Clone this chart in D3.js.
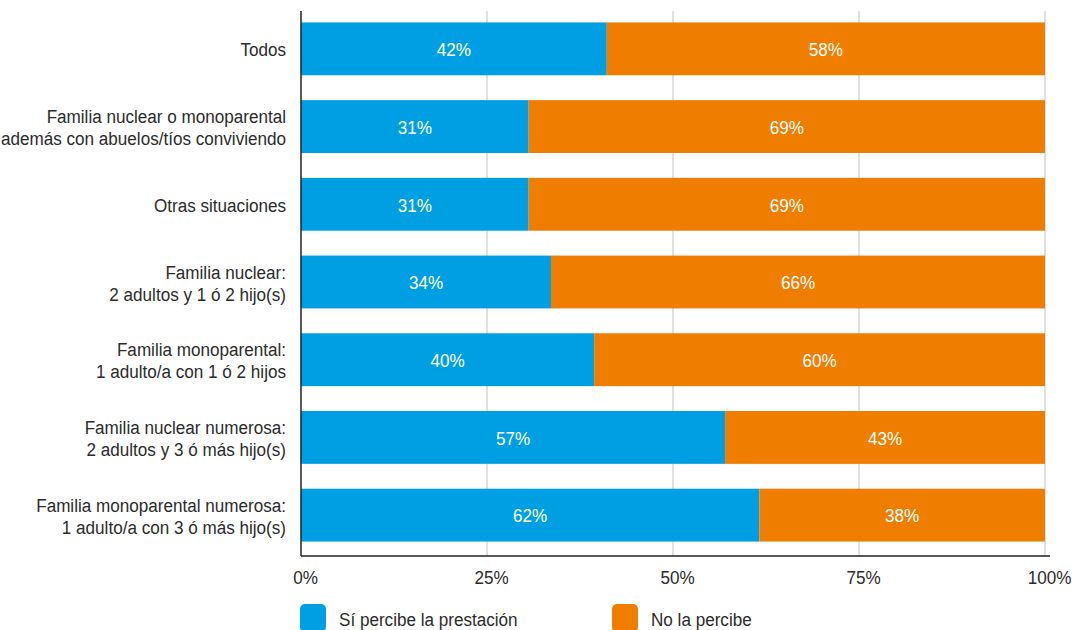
<!DOCTYPE html>
<html>
<head>
<meta charset="utf-8">
<script src="https://cdn.jsdelivr.net/npm/d3@7"></script>
<style>
  html, body { margin: 0; padding: 0; background: #fff; }
  svg { display: block; font-family: "Liberation Sans", Arial, sans-serif; }
</style>
</head>
<body>
<svg id="chart" width="1072" height="630"></svg>
<script>
const categories = [
  ["Todos"],
  ["Familia nuclear o monoparental", "además con abuelos/tíos conviviendo"],
  ["Otras situaciones"],
  ["Familia nuclear:", "2 adultos y 1 ó 2 hijo(s)"],
  ["Familia monoparental:", "1 adulto/a con 1 ó 2 hijos"],
  ["Familia nuclear numerosa:", "2 adultos y 3 ó más hijo(s)"],
  ["Familia monoparental numerosa:", "1 adulto/a con 3 ó más hijo(s)"]
];
const siValues = [41.1, 30.6, 30.6, 33.6, 39.4, 57.0, 61.6];
const noValues = [58.9, 69.4, 69.4, 66.4, 60.6, 43.0, 38.4];
const siLabels = ["42%", "31%", "31%", "34%", "40%", "57%", "62%"];
const noLabels = ["58%", "69%", "69%", "66%", "60%", "43%", "38%"];
const seriesNames = ["Sí percibe la prestación", "No la percibe"];
const tickValues = [0, 25, 50, 75, 100];
const tickLabels = ["0%", "25%", "50%", "75%", "100%"];

const colors = ["#009fe3", "#ef7d00"];
const textColor = "#2b2b2b";
const FS = 19;      // font size
const SX = 0.9;     // horizontal condensing

const svg = d3.select("#chart");
const plotLeft = 301, plotRight = 1045, plotTop = 11, plotBottom = 556;

const x = d3.scaleLinear().domain([0, 100]).range([plotLeft, plotRight]);
const y = d3.scaleBand().domain(d3.range(categories.length)).range([plotTop - 1, plotBottom - 2]).paddingInner(0.32).paddingOuter(0.16);

// gridlines
svg.append("g").selectAll("line").data(tickValues.slice(1)).join("line")
  .attr("x1", d => x(d)).attr("x2", d => x(d))
  .attr("y1", plotTop).attr("y2", plotBottom)
  .attr("stroke", "#cccccc").attr("stroke-width", 1.2);

// stacked data
const rows = categories.map((c, i) => ({ i, si: siValues[i], no: noValues[i] }));
const stacked = d3.stack().keys(["si", "no"])(rows);

const groups = svg.append("g").selectAll("g").data(stacked).join("g")
  .attr("fill", (d, k) => colors[k]);
groups.selectAll("rect").data(d => d).join("rect")
  .attr("x", d => x(d[0]))
  .attr("width", d => x(d[1]) - x(d[0]))
  .attr("y", d => y(d.data.i))
  .attr("height", y.bandwidth());

// value labels
const labelSets = [siLabels, noLabels];
stacked.forEach((layer, k) => {
  svg.append("g").selectAll("text").data(layer).join("text")
    .attr("transform", d => `translate(${(x(d[0]) + x(d[1])) / 2},${y(d.data.i) + y.bandwidth() / 2}) scale(${SX},1)`)
    .attr("dy", "0.38em")
    .attr("text-anchor", "middle")
    .attr("fill", "#ffffff")
    .attr("font-size", FS)
    .text(d => labelSets[k][d.data.i]);
});

// category labels
const catG = svg.append("g").attr("transform", `translate(286,0) scale(${SX},1)`);
categories.forEach((lines, i) => {
  const cy = y(i) + y.bandwidth() / 2;
  const lh = 22;
  const t = catG.append("text")
    .attr("text-anchor", "end")
    .attr("fill", textColor)
    .attr("font-size", FS);
  lines.forEach((ln, j) => {
    t.append("tspan")
      .attr("x", 0)
      .attr("y", cy + (j - (lines.length - 1) / 2) * lh)
      .attr("dy", "0.4em")
      .text(ln);
  });
});

// axes lines
svg.append("line").attr("x1", plotLeft).attr("x2", plotLeft).attr("y1", plotTop).attr("y2", plotBottom)
  .attr("stroke", "#222").attr("stroke-width", 1.5);
svg.append("line").attr("x1", plotLeft).attr("x2", plotRight + 5).attr("y1", plotBottom).attr("y2", plotBottom)
  .attr("stroke", "#222").attr("stroke-width", 1.5);

// tick labels
const xAxis = d3.axisBottom(x).tickValues(tickValues).tickFormat((d, i) => tickLabels[i]).tickSize(0).tickPadding(0);
const ax = svg.append("g").attr("transform", `translate(4,${plotBottom})`).call(xAxis);
ax.select(".domain").remove();
ax.selectAll("text")
  .attr("y", 0).attr("dy", 0)
  .attr("transform", `translate(0,28) scale(${SX},1)`)
  .attr("fill", textColor).attr("font-size", FS)
  .attr("font-family", "Liberation Sans, Arial, sans-serif");

// legend
const legendX = [300, 612];
const lg = svg.append("g").selectAll("g").data(seriesNames).join("g")
  .attr("transform", (d, i) => `translate(${legendX[i]},604)`);
lg.append("rect").attr("width", 26).attr("height", 28).attr("rx", 5)
  .attr("fill", (d, i) => colors[i]);
lg.append("text").attr("transform", `translate(39,14) scale(${SX},1)`).attr("dy", "0.4em")
  .attr("fill", textColor).attr("font-size", FS).text(d => d);
</script>
</body>
</html>
